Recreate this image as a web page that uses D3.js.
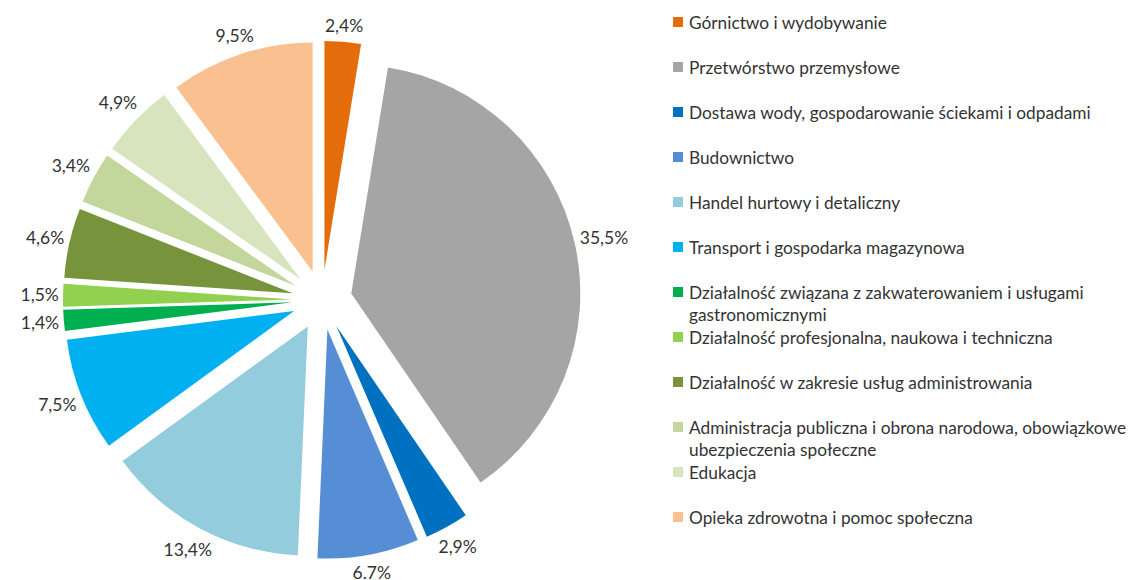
<!DOCTYPE html>
<html>
<head>
<meta charset="utf-8">
<script src="https://cdn.jsdelivr.net/npm/d3@7"></script>
<style>
  body { margin: 0; background: #fff; }
  svg { display: block; font-family: Lato, "Noto Sans", sans-serif; }
</style>
</head>
<body>
<svg id="chart" width="1133" height="580"></svg>
<script>
// sectors, in drawing order (clockwise from 12 o'clock)
const categories = [
  "Górnictwo i wydobywanie",
  "Przetwórstwo przemysłowe",
  "Dostawa wody, gospodarowanie ściekami i odpadami",
  "Budownictwo",
  "Handel hurtowy i detaliczny",
  "Transport i gospodarka magazynowa",
  "Działalność związana z zakwaterowaniem i usługami gastronomicznymi",
  "Działalność profesjonalna, naukowa i techniczna",
  "Działalność w zakresie usług administrowania",
  "Administracja publiczna i obrona narodowa, obowiązkowe ubezpieczenia społeczne",
  "Edukacja",
  "Opieka zdrowotna i pomoc społeczna"
];
const values = [2.4, 35.5, 2.9, 6.7, 13.4, 7.5, 1.4, 1.5, 4.6, 3.4, 4.9, 9.5];
// labels as printed on the chart (one uses a dot)
const valueLabels = ["2,4%", "35,5%", "2,9%", "6.7%", "13,4%", "7,5%", "1,4%", "1,5%", "4,6%", "3,4%", "4,9%", "9,5%"];
const colors = ["#E46C0A", "#A5A5A5", "#0070C0", "#558ED5", "#93CDDD", "#00B0F0",
                "#00B050", "#92D050", "#77933C", "#C3D69B", "#D7E4BD", "#FAC090"];

const svg = d3.select("#chart");
const cx = 322, cy = 300;
const radius = 229, explode = 30;
const textColor = "#333333";

const pie = d3.pie().sort(null).value(d => d);
const arc = d3.arc().innerRadius(0).outerRadius(radius);
const arcs = pie(values);

const g = svg.append("g").attr("transform", `translate(${cx},${cy})`);

const dir = d => {
  const a = (d.startAngle + d.endAngle) / 2;
  return [Math.sin(a), -Math.cos(a)];
};

g.selectAll("path")
  .data(arcs)
  .join("path")
  .attr("d", arc)
  .attr("fill", (d, i) => colors[i])
  .attr("transform", d => {
    const [dx, dy] = dir(d);
    return `translate(${dx * explode},${dy * explode})`;
  });

// labels at the outside end, pushed out by half of their box
const labels = g.selectAll("text.val")
  .data(arcs)
  .join("text")
  .attr("class", "val")
  .attr("font-size", 17.5)
  .attr("fill", textColor)
  .attr("text-anchor", "middle")
  .attr("dominant-baseline", "central")
  .text((d, i) => valueLabels[i]);

labels.each(function (d) {
  const box = this.getBBox();
  const [dx, dy] = dir(d);
  const r = radius + explode + 4 + Math.abs(dx) * box.width / 2 + Math.abs(dy) * box.height / 2;
  d3.select(this).attr("x", dx * r).attr("y", dy * r);
});

// legend
const legendX = 673, legendY = 22, rowStep = 45, lineStep = 22, maxWidth = 452;
const legend = svg.append("g").attr("transform", `translate(${legendX},0)`);

categories.forEach((name, i) => {
  const y = legendY + i * rowStep;
  legend.append("rect")
    .attr("x", 0).attr("y", y - 5)
    .attr("width", 10).attr("height", 10)
    .attr("fill", colors[i]);

  const t = legend.append("text")
    .attr("x", 16).attr("y", y)
    .attr("font-size", 17.3)
    .attr("fill", textColor)
    .attr("dominant-baseline", "central");

  // simple word wrap
  const words = name.split(" ");
  let line = [], tspan = t.append("tspan").attr("x", 16).attr("y", y), n = 0;
  words.forEach(w => {
    line.push(w);
    tspan.text(line.join(" "));
    if (tspan.node().getComputedTextLength() > maxWidth && line.length > 1) {
      line.pop();
      tspan.text(line.join(" "));
      line = [w];
      n++;
      tspan = t.append("tspan").attr("x", 16).attr("y", y + n * lineStep).text(w);
    }
  });
});
</script>
</body>
</html>
